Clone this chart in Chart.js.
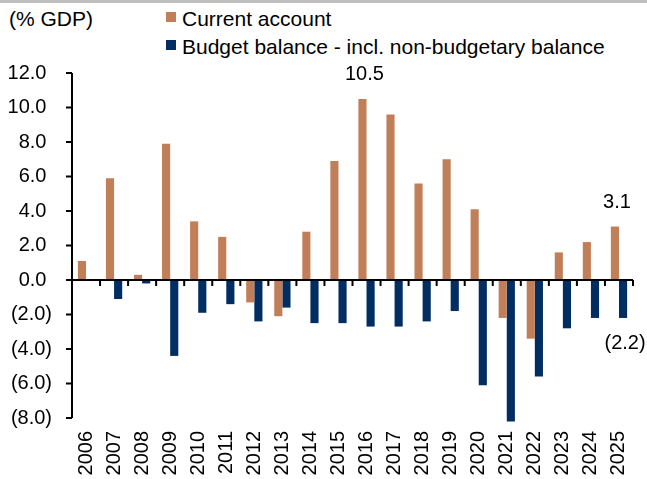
<!DOCTYPE html>
<html>
<head>
<meta charset="utf-8">
<script src="https://cdn.jsdelivr.net/npm/chart.js@4"></script>
<style>
    body { margin: 0; background: #fff; }
    #wrap { position: relative; width: 647px; height: 479px; font-family: 'Liberation Sans', Arial, sans-serif; color: #000; }
    #topline { position: absolute; left: 0; top: 0; width: 647px; height: 3px; background: #bfbfbf; }
    #unit { position: absolute; left: 9px; top: 8px; font-size: 21px; line-height: 21px; }
    .leg { position: absolute; left: 166px; font-size: 21px; line-height: 21px; white-space: nowrap; }
    .leg i { position: absolute; left: 0; width: 10px; height: 10px; }
    .leg span { position: absolute; left: 16px; top: 0; }
    canvas { position: absolute; left: 0; top: 0; }
</style>
</head>
<body>
<div id="wrap">
    <div id="topline"></div>
    <div id="unit">(% GDP)</div>
    <div id="legend"></div>
    <canvas id="chart-balance" width="647" height="479"></canvas>
</div>
<script>
// values, % of GDP
const years = ['2006', '2007', '2008', '2009', '2010', '2011', '2012', '2013', '2014', '2015',
    '2016', '2017', '2018', '2019', '2020', '2021', '2022', '2023', '2024', '2025'];
const currentAccount = [1.1, 5.9, 0.3, 7.9, 3.4, 2.5, -1.3, -2.1, 2.8, 6.9,
    10.5, 9.6, 5.6, 7.0, 4.1, -2.2, -3.4, 1.6, 2.2, 3.1];
const budgetBalance = [null, -1.1, -0.2, -4.4, -1.9, -1.4, -2.4, -1.6, -2.5, -2.5,
    -2.7, -2.7, -2.4, -1.8, -6.1, -8.2, -5.6, -2.8, -2.2, -2.2];
const seriesNames = ['Current account', 'Budget balance - incl. non-budgetary balance'];
const seriesColors = ['#C17F59', '#002D62'];
// [dataset, index] of bars that carry a value label
const labelledBars = [[0, 10], [0, 19], [1, 19]];

const FONT = "'Liberation Sans', Arial, sans-serif";

const fmt = v => v < 0 ? '(' + Math.abs(v).toFixed(1) + ')' : v.toFixed(1);

// html legend, stacked
const legend = document.getElementById('legend');
seriesNames.forEach((name, i) => {
    const row = document.createElement('div');
    row.className = 'leg';
    row.style.top = (8 + i * 28) + 'px';
    row.innerHTML = '<i style="background:' + seriesColors[i] + ';top:4px"></i><span>' + name + '</span>';
    legend.appendChild(row);
});

// axis lines drawn from the scales: y axis, zero line, tick marks
const axisLines = {
    id: 'axisLines',
    afterDraw(chart) {
        const { ctx, chartArea: a, scales: { x, y } } = chart;
        const y0 = y.getPixelForValue(0);
        const half = (x.getPixelForValue(1) - x.getPixelForValue(0)) / 2;
        ctx.save();
        ctx.strokeStyle = '#000';
        ctx.lineWidth = 2;
        ctx.beginPath();
        ctx.moveTo(a.left, a.top);
        ctx.lineTo(a.left, a.bottom);
        y.ticks.forEach(t => {
            const py = y.getPixelForValue(t.value);
            ctx.moveTo(a.left - 6, py);
            ctx.lineTo(a.left, py);
        });
        ctx.moveTo(a.left, y0);
        ctx.lineTo(a.right, y0);
        years.forEach((_, i) => {
            const px = x.getPixelForValue(i) + half;
            ctx.moveTo(px, y0);
            ctx.lineTo(px, y0 + 6);
        });
        ctx.stroke();
        ctx.restore();
    },
};

const valueLabels = {
    id: 'valueLabels',
    afterDraw(chart) {
        const ctx = chart.ctx;
        ctx.save();
        ctx.font = '20px ' + FONT;
        ctx.fillStyle = '#000';
        ctx.textAlign = 'center';
        ctx.textBaseline = 'middle';
        labelledBars.forEach(([ds, idx]) => {
            const el = chart.getDatasetMeta(ds).data[idx];
            const v = chart.data.datasets[ds].data[idx];
            const y = v >= 0 ? el.y - 24 : el.y + 26;
            ctx.fillText(fmt(v), el.x + 2, y);
        });
        ctx.restore();
    },
};

const ctx = document.getElementById('chart-balance').getContext('2d');
new Chart(ctx, {
    type: 'bar',
    data: {
        labels: years,
        datasets: [{
            label: seriesNames[0],
            data: currentAccount,
            backgroundColor: seriesColors[0],
            barPercentage: 1,
            categoryPercentage: 0.58,
        }, {
            label: seriesNames[1],
            data: budgetBalance,
            backgroundColor: seriesColors[1],
            barPercentage: 1,
            categoryPercentage: 0.58,
            clip: false,
        }],
    },
    options: {
        responsive: false,
        animation: false,
        layout: { padding: { top: 73, left: 7, right: 14, bottom: 3 } },
        plugins: { legend: { display: false }, tooltip: { enabled: false } },
        scales: {
            x: {
                grid: { display: false, drawTicks: false },
                border: { display: false },
                ticks: {
                    minRotation: 90,
                    maxRotation: 90,
                    autoSkip: false,
                    padding: 13,
                    color: '#000',
                    font: { family: FONT, size: 20 },
                },
                afterFit(scale) {
                    scale.height = 58;
                    scale.paddingLeft = 0;
                    scale.paddingRight = 0;
                },
            },
            y: {
                min: -8,
                max: 12,
                grid: { display: false, drawTicks: false },
                border: { display: false },
                ticks: {
                    stepSize: 2,
                    padding: 20,
                    color: '#000',
                    font: { family: FONT, size: 20 },
                    callback: v => v < 0 ? fmt(v) : fmt(v) + ' ',
                },
                afterFit(scale) {
                    scale.width = 65;
                },
            },
        },
    },
    plugins: [axisLines, valueLabels],
});
</script>
</body>
</html>
